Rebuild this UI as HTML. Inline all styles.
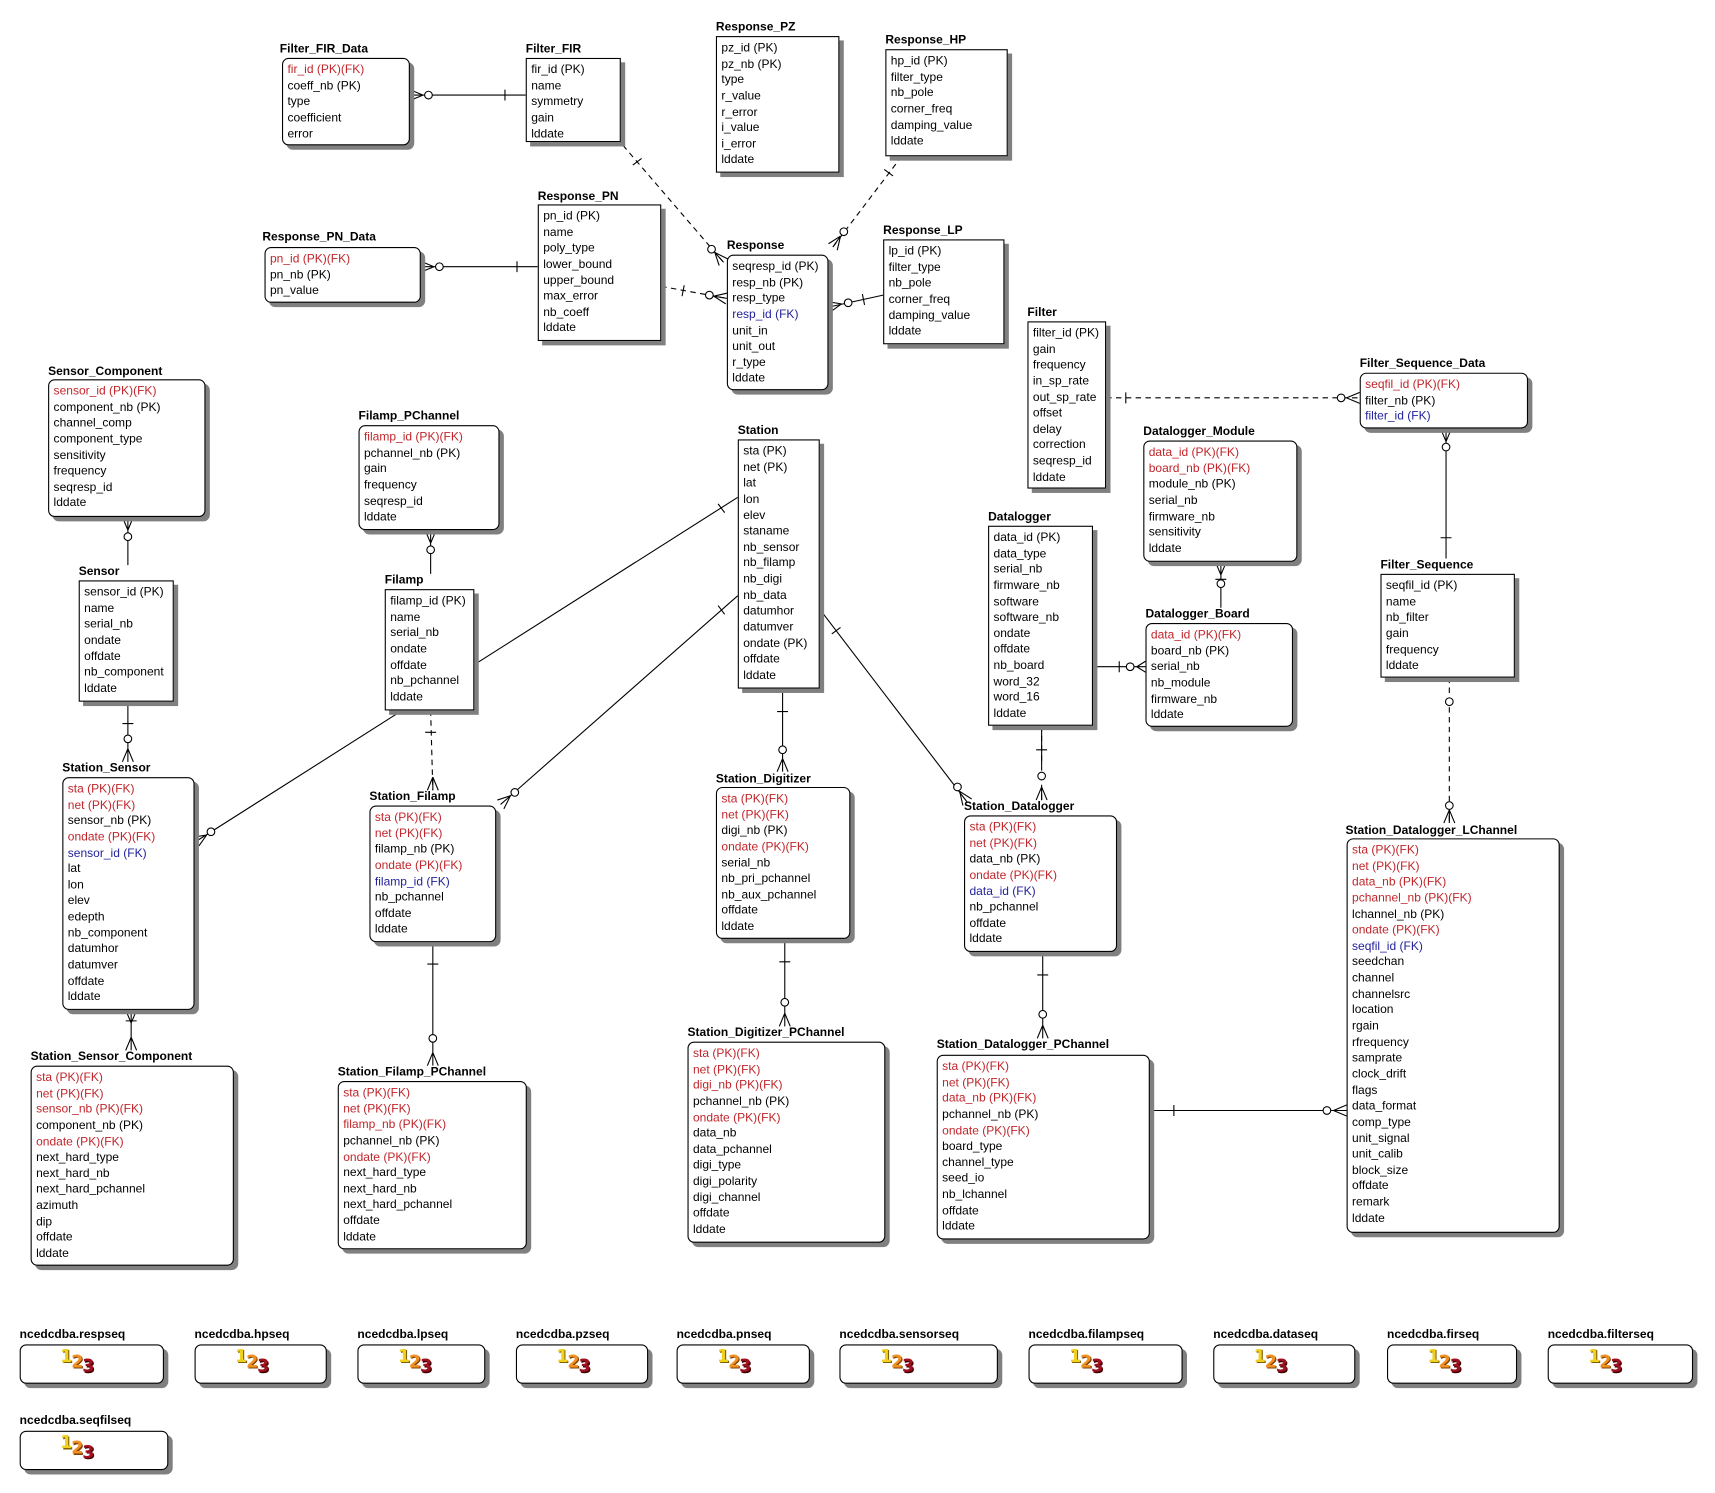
<!DOCTYPE html>
<html><head><meta charset="utf-8"><style>
body{margin:0;background:#fff;width:1715px;height:1492px;overflow:hidden}
#w{position:absolute;left:0;top:0;width:1569px;height:1366px;transform:scale(1.093);transform-origin:0 0;font-family:"Liberation Sans",sans-serif;font-size:11px;color:#000}
.b{position:absolute;border:1px solid #000;background:#fff;box-shadow:4px 4px 0 #808080;box-sizing:border-box;padding:3px 0 0 4px;line-height:14.64px;white-space:nowrap}
.r{border-radius:6px}
.t{position:absolute;font-weight:bold;white-space:nowrap;line-height:12px}
.k{color:#c0262b}.f{color:#22229c}
svg{position:absolute;left:0;top:0}
.s{position:absolute;border:1px solid #000;border-radius:6px;background:#fff;box-shadow:4px 4px 0 #808080;box-sizing:border-box;height:36px}
.s span{position:absolute;top:2px;left:36px;font-weight:bold;font-size:16px;font-family:"DejaVu Sans",sans-serif;letter-spacing:-1px}
.s b{position:relative}
.y{color:#f0d020;text-shadow:1px 1px 0 #806000;top:-2px}.o{color:#f09020;text-shadow:1px 1px 0 #804000;top:3px}.d{color:#a01020;text-shadow:1px 1px 0 #400000;top:7px}
</style></head><body><div id="w">
<svg width="1569" height="1366" fill="none" stroke="#000" stroke-width="1">
<g>
<path d="M375 87H481M387 87L375 82M387 87L375 92M462 82V92"/><circle cx="392" cy="87" r="3.5" fill="#fff"/>
<path d="M570 133L662 240" stroke-dasharray="5 4"/><path d="M654 231L666 237M654 231L658 243M654 231L662 240M587 145L579 151"/><circle cx="651" cy="228" r="3.5" fill="#fff"/>
<path d="M825 143L762 226" stroke-dasharray="5 4"/><path d="M769 216L766 229M769 216L758 223M769 216L762 226M817 161L809 155"/><circle cx="772" cy="212" r="3.5" fill="#fff"/>
<path d="M385 244H492M397 244L385 239M397 244L385 249M473 239V249"/><circle cx="402" cy="244" r="3.5" fill="#fff"/>
<path d="M605 262L665 273" stroke-dasharray="5 4"/><path d="M653 271L666 268M653 271L664 278M653 271L665 273M626 261L624 271"/><circle cx="649" cy="270" r="3.5" fill="#fff"/>
<path d="M758 281L808 270M770 278L759 286M770 278L757 276M789 269L791 279"/><circle cx="776" cy="277" r="3.5" fill="#fff"/>
<path d="M1012 364H1244" stroke-dasharray="5 4"/><path d="M1232 364L1244 359M1232 364L1244 369M1030 359V369"/><circle cx="1227" cy="364" r="3.5" fill="#fff"/>
<path d="M1323 392V511M1323 404L1318 392M1323 404L1328 392M1318 492H1328"/><circle cx="1323" cy="409" r="3.5" fill="#fff"/>
<path d="M1326 620V753" stroke-dasharray="5 4"/><path d="M1326 741L1321 753M1326 741L1331 753M1326 741V753"/><circle cx="1326" cy="642" r="3.5" fill="#fff"/><circle cx="1326" cy="737" r="3.5" fill="#fff"/>
<path d="M1117 514V556M1117 526L1112 514M1117 526L1122 514M1112 530H1122"/><circle cx="1117" cy="534" r="3.5" fill="#fff"/>
<path d="M1000 610H1048M1040 610L1048 605M1040 610L1048 615M1024 605V615"/><circle cx="1034" cy="610" r="3.5" fill="#fff"/>
<path d="M953 664V732" stroke-dasharray="5 4"/><path d="M948 686H958M953 720L948 732M953 720L958 732M953 720V732M953 664V700"/><circle cx="953" cy="710" r="3.5" fill="#fff"/>
<path d="M752 560L885 734M878 724L889 731M878 724L881 737M769 574L761 580"/><circle cx="876" cy="720" r="3.5" fill="#fff"/>
<path d="M716 630V706M711 651H721M716 694L711 706M716 694L721 706"/><circle cx="716" cy="686" r="3.5" fill="#fff"/>
<path d="M675 455L179 770M189 764L182 774M189 764L176 766M663 469L657 461"/><circle cx="193" cy="761" r="3.5" fill="#fff"/>
<path d="M675 545L458 736M467 728L461 740M467 728L455 732M663 562L657 554"/><circle cx="471" cy="725" r="3.5" fill="#fff"/>
<path d="M117 473V517M117 485L112 473M117 485L122 473"/><circle cx="117" cy="491" r="3.5" fill="#fff"/>
<path d="M117 642V697M112 662H122M117 685L112 697M117 685L122 697"/><circle cx="117" cy="676" r="3.5" fill="#fff"/>
<path d="M120 924V961M115 934H125M120 949L115 961M120 949L125 961M120 936L115 924M120 936L125 924"/>
<path d="M394 485V525M394 497L389 485M394 497L399 485"/><circle cx="394" cy="503" r="3.5" fill="#fff"/>
<path d="M394 650L396 723" stroke-dasharray="5 4"/><path d="M389 670H399M396 711L391 723M396 711L401 723M396 711V723"/>
<path d="M396 862V975M391 882H401M396 963L391 975M396 963L401 975"/><circle cx="396" cy="950" r="3.5" fill="#fff"/>
<path d="M718 859V939M713 880H723M718 927L713 939M718 927L723 939"/><circle cx="718" cy="917" r="3.5" fill="#fff"/>
<path d="M954 871V950M949 892H959M954 938L949 950M954 938L959 950"/><circle cx="954" cy="928" r="3.5" fill="#fff"/>
<path d="M1052 1016H1232M1220 1016L1232 1011M1220 1016L1232 1021M1074 1011V1021"/><circle cx="1214" cy="1016" r="3.5" fill="#fff"/>
</g></svg>

<div class="t" style="left:256px;top:39px">Filter_FIR_Data</div>
<div class="b r" style="left:258px;top:53px;width:117px;height:80px"><span class="k">fir_id (PK)(FK)</span><br>coeff_nb (PK)<br>type<br>coefficient<br>error</div>
<div class="t" style="left:481px;top:39px">Filter_FIR</div>
<div class="b" style="left:481px;top:53px;width:87px;height:77px">fir_id (PK)<br>name<br>symmetry<br>gain<br>lddate</div>
<div class="t" style="left:655px;top:19px">Response_PZ</div>
<div class="b" style="left:655px;top:33px;width:113px;height:125px">pz_id (PK)<br>pz_nb (PK)<br>type<br>r_value<br>r_error<br>i_value<br>i_error<br>lddate</div>
<div class="t" style="left:810px;top:31px">Response_HP</div>
<div class="b" style="left:810px;top:45px;width:112px;height:98px">hp_id (PK)<br>filter_type<br>nb_pole<br>corner_freq<br>damping_value<br>lddate</div>
<div class="t" style="left:240px;top:211px">Response_PN_Data</div>
<div class="b r" style="left:242px;top:226px;width:143px;height:51px"><span class="k">pn_id (PK)(FK)</span><br>pn_nb (PK)<br>pn_value</div>
<div class="t" style="left:492px;top:174px">Response_PN</div>
<div class="b" style="left:492px;top:187px;width:113px;height:125px">pn_id (PK)<br>name<br>poly_type<br>lower_bound<br>upper_bound<br>max_error<br>nb_coeff<br>lddate</div>
<div class="t" style="left:665px;top:219px">Response</div>
<div class="b r" style="left:665px;top:233px;width:93px;height:124px">seqresp_id (PK)<br>resp_nb (PK)<br>resp_type<br><span class="f">resp_id (FK)</span><br>unit_in<br>unit_out<br>r_type<br>lddate</div>
<div class="t" style="left:808px;top:205px">Response_LP</div>
<div class="b" style="left:808px;top:219px;width:111px;height:96px">lp_id (PK)<br>filter_type<br>nb_pole<br>corner_freq<br>damping_value<br>lddate</div>
<div class="t" style="left:940px;top:280px">Filter</div>
<div class="b" style="left:940px;top:294px;width:72px;height:153px">filter_id (PK)<br>gain<br>frequency<br>in_sp_rate<br>out_sp_rate<br>offset<br>delay<br>correction<br>seqresp_id<br>lddate</div>
<div class="t" style="left:1244px;top:327px">Filter_Sequence_Data</div>
<div class="b r" style="left:1244px;top:341px;width:154px;height:51px"><span class="k">seqfil_id (PK)(FK)</span><br>filter_nb (PK)<br><span class="f">filter_id (FK)</span></div>
<div class="t" style="left:44px;top:334px">Sensor_Component</div>
<div class="b r" style="left:44px;top:347px;width:144px;height:126px"><span class="k">sensor_id (PK)(FK)</span><br>component_nb (PK)<br>channel_comp<br>component_type<br>sensitivity<br>frequency<br>seqresp_id<br>lddate</div>
<div class="t" style="left:328px;top:375px">Filamp_PChannel</div>
<div class="b r" style="left:328px;top:389px;width:129px;height:96px"><span class="k">filamp_id (PK)(FK)</span><br>pchannel_nb (PK)<br>gain<br>frequency<br>seqresp_id<br>lddate</div>
<div class="t" style="left:675px;top:388px">Station</div>
<div class="b" style="left:675px;top:402px;width:75px;height:228px">sta (PK)<br>net (PK)<br>lat<br>lon<br>elev<br>staname<br>nb_sensor<br>nb_filamp<br>nb_digi<br>nb_data<br>datumhor<br>datumver<br>ondate (PK)<br>offdate<br>lddate</div>
<div class="t" style="left:1046px;top:389px">Datalogger_Module</div>
<div class="b r" style="left:1046px;top:403px;width:141px;height:111px"><span class="k">data_id (PK)(FK)</span><br><span class="k">board_nb (PK)(FK)</span><br>module_nb (PK)<br>serial_nb<br>firmware_nb<br>sensitivity<br>lddate</div>
<div class="t" style="left:904px;top:467px">Datalogger</div>
<div class="b" style="left:904px;top:481px;width:96px;height:183px">data_id (PK)<br>data_type<br>serial_nb<br>firmware_nb<br>software<br>software_nb<br>ondate<br>offdate<br>nb_board<br>word_32<br>word_16<br>lddate</div>
<div class="t" style="left:1263px;top:511px">Filter_Sequence</div>
<div class="b" style="left:1263px;top:525px;width:123px;height:95px">seqfil_id (PK)<br>name<br>nb_filter<br>gain<br>frequency<br>lddate</div>
<div class="t" style="left:72px;top:517px">Sensor</div>
<div class="b" style="left:72px;top:531px;width:87px;height:111px">sensor_id (PK)<br>name<br>serial_nb<br>ondate<br>offdate<br>nb_component<br>lddate</div>
<div class="t" style="left:352px;top:525px">Filamp</div>
<div class="b" style="left:352px;top:539px;width:82px;height:111px">filamp_id (PK)<br>name<br>serial_nb<br>ondate<br>offdate<br>nb_pchannel<br>lddate</div>
<div class="t" style="left:1048px;top:556px">Datalogger_Board</div>
<div class="b r" style="left:1048px;top:570px;width:135px;height:95px"><span class="k">data_id (PK)(FK)</span><br>board_nb (PK)<br>serial_nb<br>nb_module<br>firmware_nb<br>lddate</div>
<div class="t" style="left:57px;top:697px">Station_Sensor</div>
<div class="b r" style="left:57px;top:711px;width:121px;height:213px"><span class="k">sta (PK)(FK)</span><br><span class="k">net (PK)(FK)</span><br>sensor_nb (PK)<br><span class="k">ondate (PK)(FK)</span><br><span class="f">sensor_id (FK)</span><br>lat<br>lon<br>elev<br>edepth<br>nb_component<br>datumhor<br>datumver<br>offdate<br>lddate</div>
<div class="t" style="left:338px;top:723px">Station_Filamp</div>
<div class="b r" style="left:338px;top:737px;width:116px;height:125px"><span class="k">sta (PK)(FK)</span><br><span class="k">net (PK)(FK)</span><br>filamp_nb (PK)<br><span class="k">ondate (PK)(FK)</span><br><span class="f">filamp_id (FK)</span><br>nb_pchannel<br>offdate<br>lddate</div>
<div class="t" style="left:655px;top:707px">Station_Digitizer</div>
<div class="b r" style="left:655px;top:720px;width:123px;height:139px"><span class="k">sta (PK)(FK)</span><br><span class="k">net (PK)(FK)</span><br>digi_nb (PK)<br><span class="k">ondate (PK)(FK)</span><br>serial_nb<br>nb_pri_pchannel<br>nb_aux_pchannel<br>offdate<br>lddate</div>
<div class="t" style="left:882px;top:732px">Station_Datalogger</div>
<div class="b r" style="left:882px;top:746px;width:140px;height:125px"><span class="k">sta (PK)(FK)</span><br><span class="k">net (PK)(FK)</span><br>data_nb (PK)<br><span class="k">ondate (PK)(FK)</span><br><span class="f">data_id (FK)</span><br>nb_pchannel<br>offdate<br>lddate</div>
<div class="t" style="left:1231px;top:754px">Station_Datalogger_LChannel</div>
<div class="b r" style="left:1232px;top:767px;width:195px;height:361px"><span class="k">sta (PK)(FK)</span><br><span class="k">net (PK)(FK)</span><br><span class="k">data_nb (PK)(FK)</span><br><span class="k">pchannel_nb (PK)(FK)</span><br>lchannel_nb (PK)<br><span class="k">ondate (PK)(FK)</span><br><span class="f">seqfil_id (FK)</span><br>seedchan<br>channel<br>channelsrc<br>location<br>rgain<br>rfrequency<br>samprate<br>clock_drift<br>flags<br>data_format<br>comp_type<br>unit_signal<br>unit_calib<br>block_size<br>offdate<br>remark<br>lddate</div>
<div class="t" style="left:28px;top:961px">Station_Sensor_Component</div>
<div class="b r" style="left:28px;top:975px;width:186px;height:183px"><span class="k">sta (PK)(FK)</span><br><span class="k">net (PK)(FK)</span><br><span class="k">sensor_nb (PK)(FK)</span><br>component_nb (PK)<br><span class="k">ondate (PK)(FK)</span><br>next_hard_type<br>next_hard_nb<br>next_hard_pchannel<br>azimuth<br>dip<br>offdate<br>lddate</div>
<div class="t" style="left:309px;top:975px">Station_Filamp_PChannel</div>
<div class="b r" style="left:309px;top:989px;width:173px;height:154px"><span class="k">sta (PK)(FK)</span><br><span class="k">net (PK)(FK)</span><br><span class="k">filamp_nb (PK)(FK)</span><br>pchannel_nb (PK)<br><span class="k">ondate (PK)(FK)</span><br>next_hard_type<br>next_hard_nb<br>next_hard_pchannel<br>offdate<br>lddate</div>
<div class="t" style="left:629px;top:939px">Station_Digitizer_PChannel</div>
<div class="b r" style="left:629px;top:953px;width:181px;height:184px"><span class="k">sta (PK)(FK)</span><br><span class="k">net (PK)(FK)</span><br><span class="k">digi_nb (PK)(FK)</span><br>pchannel_nb (PK)<br><span class="k">ondate (PK)(FK)</span><br>data_nb<br>data_pchannel<br>digi_type<br>digi_polarity<br>digi_channel<br>offdate<br>lddate</div>
<div class="t" style="left:857px;top:950px">Station_Datalogger_PChannel</div>
<div class="b r" style="left:857px;top:965px;width:195px;height:169px"><span class="k">sta (PK)(FK)</span><br><span class="k">net (PK)(FK)</span><br><span class="k">data_nb (PK)(FK)</span><br>pchannel_nb (PK)<br><span class="k">ondate (PK)(FK)</span><br>board_type<br>channel_type<br>seed_io<br>nb_lchannel<br>offdate<br>lddate</div>

<div class="t" style="left:18px;top:1215px">ncedcdba.respseq</div><div class="s" style="left:18px;top:1230px;width:132px"><span><b class="y">1</b><b class="o">2</b><b class="d">3</b></span></div>
<div class="t" style="left:178px;top:1215px">ncedcdba.hpseq</div><div class="s" style="left:178px;top:1230px;width:121px"><span><b class="y">1</b><b class="o">2</b><b class="d">3</b></span></div>
<div class="t" style="left:327px;top:1215px">ncedcdba.lpseq</div><div class="s" style="left:327px;top:1230px;width:117px"><span><b class="y">1</b><b class="o">2</b><b class="d">3</b></span></div>
<div class="t" style="left:472px;top:1215px">ncedcdba.pzseq</div><div class="s" style="left:472px;top:1230px;width:121px"><span><b class="y">1</b><b class="o">2</b><b class="d">3</b></span></div>
<div class="t" style="left:619px;top:1215px">ncedcdba.pnseq</div><div class="s" style="left:619px;top:1230px;width:122px"><span><b class="y">1</b><b class="o">2</b><b class="d">3</b></span></div>
<div class="t" style="left:768px;top:1215px">ncedcdba.sensorseq</div><div class="s" style="left:768px;top:1230px;width:145px"><span><b class="y">1</b><b class="o">2</b><b class="d">3</b></span></div>
<div class="t" style="left:941px;top:1215px">ncedcdba.filampseq</div><div class="s" style="left:941px;top:1230px;width:141px"><span><b class="y">1</b><b class="o">2</b><b class="d">3</b></span></div>
<div class="t" style="left:1110px;top:1215px">ncedcdba.dataseq</div><div class="s" style="left:1110px;top:1230px;width:130px"><span><b class="y">1</b><b class="o">2</b><b class="d">3</b></span></div>
<div class="t" style="left:1269px;top:1215px">ncedcdba.firseq</div><div class="s" style="left:1269px;top:1230px;width:119px"><span><b class="y">1</b><b class="o">2</b><b class="d">3</b></span></div>
<div class="t" style="left:1416px;top:1215px">ncedcdba.filterseq</div><div class="s" style="left:1416px;top:1230px;width:133px"><span><b class="y">1</b><b class="o">2</b><b class="d">3</b></span></div>
<div class="t" style="left:18px;top:1294px">ncedcdba.seqfilseq</div><div class="s" style="left:18px;top:1309px;width:136px"><span><b class="y">1</b><b class="o">2</b><b class="d">3</b></span></div>
</div></body></html>
